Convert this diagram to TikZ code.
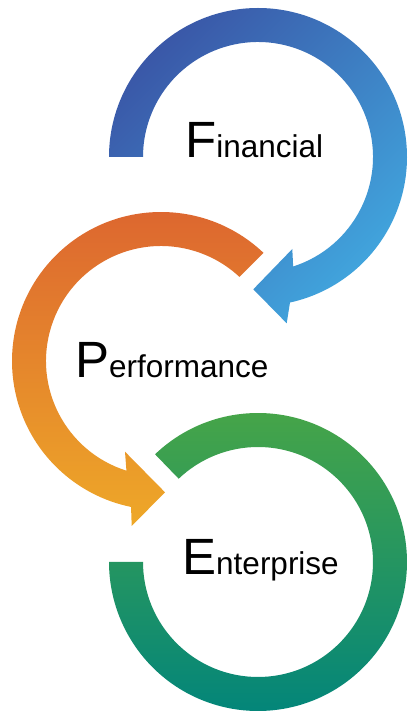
\documentclass[tikz,border=0pt]{standalone}
\usepackage{fontspec}
\setmainfont{Liberation Sans}
\definecolor{blueA}{HTML}{3A58A8}
\definecolor{blueB}{HTML}{41A6DE}
\definecolor{orA}{HTML}{DC6430}
\definecolor{orB}{HTML}{EEA828}
\definecolor{grA}{HTML}{49A646}
\definecolor{grB}{HTML}{00847C}
\newcommand{\bigfirst}[2]{{\fontsize{51}{51}\selectfont #1}{\fontsize{31.5}{31.5}\selectfont #2}}
\tikzset{
  lbl/.style={anchor=base west, inner sep=0pt, text=black},
}
\begin{document}
\begin{tikzpicture}[x=1pt,y=1pt]
\useasboundingbox (0,0) rectangle (412,713);
\coordinate (cb) at (258,556);
\coordinate (co) at (161,352);
\coordinate (cg) at (258,151);
% blue arc
\shade[top color=blueA, bottom color=blueB, shading angle=45]
  ([shift={(180:149pt)}]cb) arc[start angle=180, end angle=-77.6, radius=149pt]
  -- (286.7,389.7) -- (253.3,423.7) -- (292.3,464)
  -- ([shift={(-72.2:115pt)}]cb) arc[start angle=-72.2, end angle=180, radius=115pt] -- cycle;
% orange arc
\shade[top color=orA, bottom color=orB]
  ([shift={(46.5:149pt)}]co) arc[start angle=46.5, end angle=258.4, radius=149pt]
  -- (131.7,187) -- (165,220.7) -- (125,261.3)
  -- ([shift={(252.5:115pt)}]co) arc[start angle=252.5, end angle=47, radius=115pt] -- cycle;
% green arc
\shade[top color=grA, bottom color=grB]
  ([shift={(133.7:149pt)}]cg) arc[start angle=133.7, end angle=-180, radius=149pt]
  -- ([shift={(180:115pt)}]cg) arc[start angle=-180, end angle=133.6, radius=115pt] -- cycle;
% labels
\node[lbl] (fin) at (185,555) {\bigfirst{F}{inancial}};
\node[lbl] (perf) at (75,335) {\bigfirst{P}{erformance}};
\node[lbl] (ent) at (182,138) {\bigfirst{E}{nterprise}};
\end{tikzpicture}
\end{document}
